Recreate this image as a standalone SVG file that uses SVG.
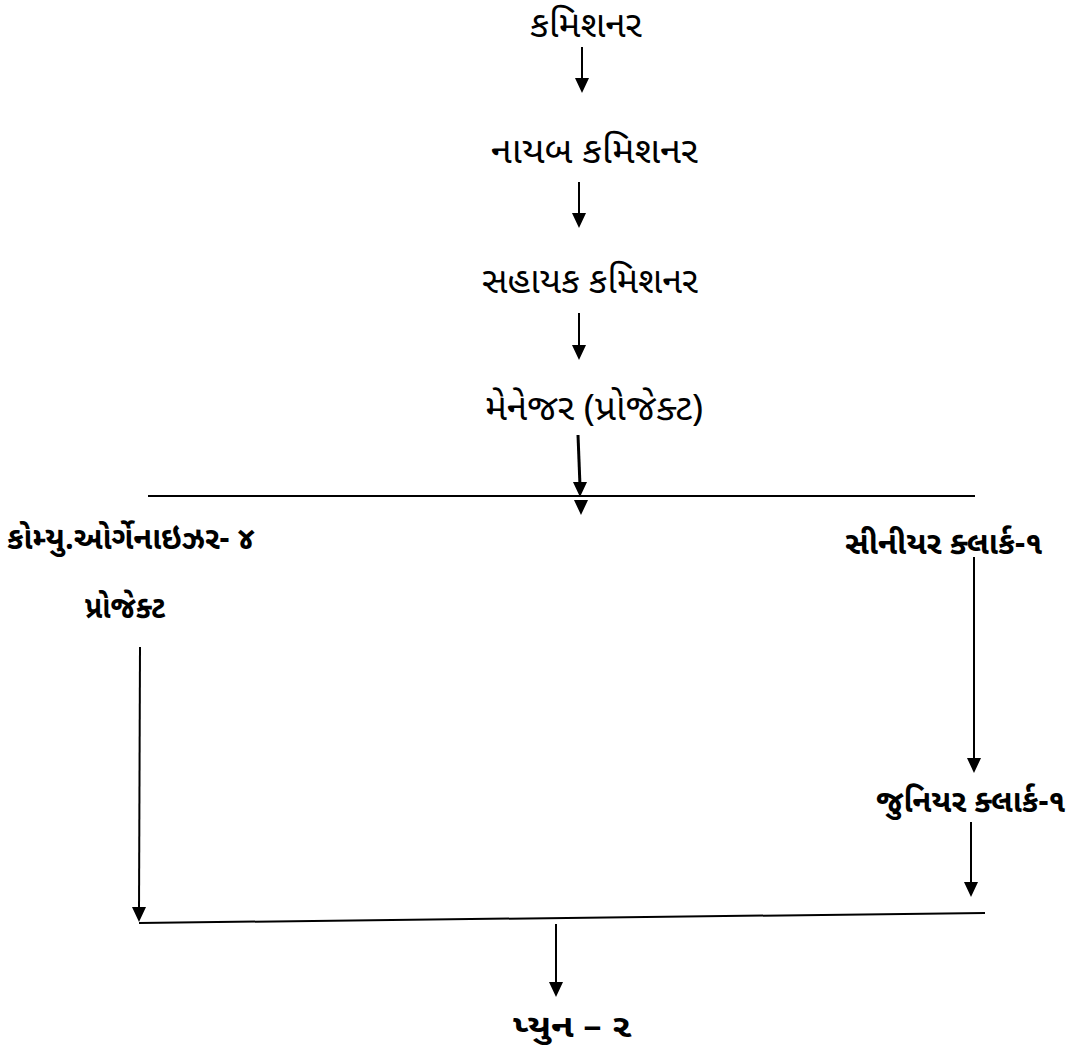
<svg xmlns="http://www.w3.org/2000/svg" width="1076" height="1053" viewBox="0 0 1076 1053">
<defs>
<style>
text{font-family:"Noto Sans Gujarati","Lohit Gujarati","Noto Sans","DejaVu Sans",sans-serif;font-size:36px;fill:#000;}
.b{font-weight:bold;font-size:32px;}
line{stroke:#000;stroke-width:2;}
</style>
<path id="head" d="M-7,-15 L7,-15 L0,0 Z" fill="#000"/>
</defs>
<rect width="1076" height="1053" fill="#fff"/>
<g id="n1"><text x="530" y="37" textLength="112" lengthAdjust="spacingAndGlyphs">કમિશનર</text></g>
<g id="n2"><text x="491" y="163" textLength="207" lengthAdjust="spacingAndGlyphs">નાયબ કમિશનર</text></g>
<g id="n3"><text x="482" y="293" textLength="216" lengthAdjust="spacingAndGlyphs">સહાયક કમિશનર</text></g>
<g id="n4"><text x="485" y="420" textLength="218" lengthAdjust="spacingAndGlyphs">મેનેજર (પ્રોજેક્ટ)</text></g>
<g id="n5"><text x="7" y="549" class="b" textLength="248" lengthAdjust="spacingAndGlyphs">કોમ્યુ.ઓર્ગેનાઇઝર- ૪</text><text x="85" y="618" class="b" textLength="80" lengthAdjust="spacingAndGlyphs">પ્રોજેક્ટ</text></g>
<g id="n6"><text x="845" y="554" class="b" textLength="198" lengthAdjust="spacingAndGlyphs">સીનીયર ક્લાર્ક-૧</text></g>
<g id="n7"><text x="876" y="812" class="b" textLength="190" lengthAdjust="spacingAndGlyphs">જુનિયર ક્લાર્ક-૧</text></g>
<g id="n8"><text x="513" y="1037" class="b" textLength="119" lengthAdjust="spacingAndGlyphs">પ્યુન – ૨</text></g>
<g id="connectors">
<line x1="582" y1="47" x2="582" y2="80"/><use href="#head" x="582" y="93"/>
<line x1="579" y1="182" x2="579" y2="215"/><use href="#head" x="579" y="228"/>
<line x1="579" y1="313" x2="579" y2="347"/><use href="#head" x="579" y="360"/>
<line x1="578" y1="435" x2="580" y2="486" style="stroke-width:3"/><use href="#head" x="580" y="497"/><use href="#head" x="581" y="515"/>
<line x1="148" y1="496" x2="975" y2="496"/>
<line x1="140" y1="647" x2="139" y2="910"/><use href="#head" x="139" y="922"/>
<line x1="974" y1="557" x2="974" y2="760"/><use href="#head" x="974" y="773"/>
<line x1="971" y1="822" x2="971" y2="884"/><use href="#head" x="971" y="897"/>
<line x1="139" y1="923" x2="985" y2="913"/>
<line x1="556" y1="924" x2="556" y2="984"/><use href="#head" x="556" y="997"/>
</g>
</svg>
